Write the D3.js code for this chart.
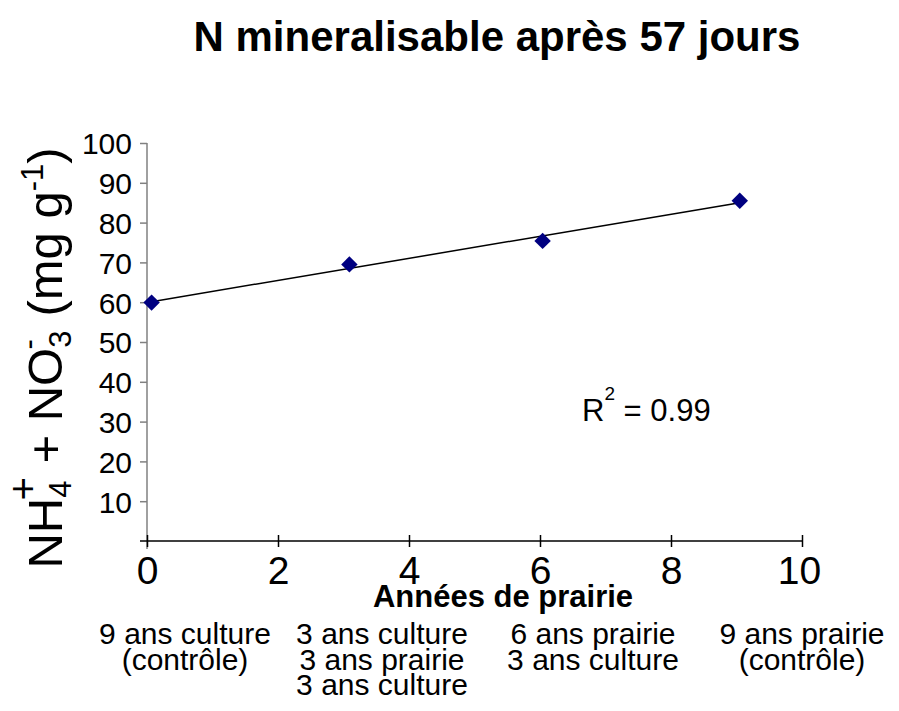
<!DOCTYPE html>
<html>
<head>
<meta charset="utf-8">
<script src="https://cdn.jsdelivr.net/npm/d3@7/dist/d3.min.js"></script>
<style>
  body { margin: 0; background: #fff; }
  text { font-family: Arial, "Liberation Sans", sans-serif; fill: #000; }
</style>
</head>
<body>
<div id="chart"></div>
<script>
// data
var years = [0.07, 3.09, 6.04, 9.05];
var nMin = [59.9, 69.5, 75.4, 85.5];
var xTicks = [0, 2, 4, 6, 8, 10];
var yTicks = [10, 20, 30, 40, 50, 60, 70, 80, 90, 100];
var treatments = [
    ["9 ans culture", "(contrôle)"],
    ["3 ans culture", "3 ans prairie", "3 ans culture"],
    ["6 ans prairie", "3 ans culture"],
    ["9 ans prairie", "(contrôle)"]
];
var r2Label = "0.99";

var width = 899, height = 711;
var svg = d3.select("#chart").append("svg")
    .attr("width", width)
    .attr("height", height);

var x = d3.scaleLinear().domain([0, 10]).range([147, 802]);
var y = d3.scaleLinear().domain([0, 100]).range([541, 143]);

// title
svg.append("text")
    .attr("x", 497).attr("y", 51)
    .style("font-size", "42px")
    .style("font-weight", "bold")
    .style("text-anchor", "middle")
    .text("N mineralisable après 57 jours");

// y axis (grey)
var yAxis = svg.append("g")
    .attr("transform", "translate(" + x(0) + ",0)")
    .call(d3.axisLeft(y).tickValues(yTicks).tickSize(7).tickPadding(8).tickSizeOuter(0));
yAxis.select(".domain").attr("stroke", "#808080").attr("stroke-width", 1.5)
    .attr("d", "M0," + y(100) + "V" + (y(0) + 8));
yAxis.selectAll(".tick line").attr("stroke", "#808080").attr("stroke-width", 1.5);
yAxis.selectAll(".tick text")
    .style("font-size", "30px")
    .style("font-family", "Arial, 'Liberation Sans', sans-serif")
    .attr("dy", "0.36em");

// x axis (black, crossing ticks)
var xAxis = svg.append("g")
    .attr("transform", "translate(0," + y(0) + ")")
    .call(d3.axisBottom(x).tickValues(xTicks).tickSize(6).tickPadding(10).tickSizeOuter(0));
xAxis.select(".domain").attr("stroke", "#000").attr("stroke-width", 1.5)
    .attr("d", "M" + (x(0) - 7) + ",0H" + x(10));
xAxis.selectAll(".tick line").attr("stroke", "#000").attr("stroke-width", 1.5).attr("y1", -6);
xAxis.selectAll(".tick text")
    .style("font-size", "39px")
    .style("font-family", "Arial, 'Liberation Sans', sans-serif")
    .attr("dy", "0.7em");
xAxis.selectAll(".tick").filter(function(d){ return d === 10; }).select("text").attr("dx", "-3");

// x axis title
svg.append("text")
    .attr("x", 503).attr("y", 607)
    .style("font-size", "31px")
    .style("font-weight", "bold")
    .style("text-anchor", "middle")
    .text("Années de prairie");

// treatment labels under axis
var colX = [185, 382, 593, 802];
svg.selectAll(".treat")
    .data(treatments)
    .enter()
    .append("text")
    .attr("class", "treat")
    .style("font-size", "30px")
    .style("text-anchor", "middle")
    .each(function(d, i) {
        var t = d3.select(this);
        d.forEach(function(line, j) {
            t.append("tspan")
                .attr("x", colX[i])
                .attr("y", 644 + j * 25.5)
                .text(line);
        });
    });

// y axis title with chemical formula
var yt = svg.append("text")
    .attr("transform", "translate(62,358) rotate(-90)")
    .style("font-size", "49px")
    .style("text-anchor", "middle");
yt.append("tspan").text("NH");
yt.append("tspan").style("font-size", "31px").attr("dy", 9).text("4");
yt.append("tspan").style("font-size", "40px").attr("dx", -20).attr("dy", -34).text("+");
yt.append("tspan").attr("dy", 25).text(" + NO");
yt.append("tspan").style("font-size", "31px").attr("dy", 9).text("3");
yt.append("tspan").style("font-size", "31px").attr("dx", -19).attr("dy", -32).text("-");
yt.append("tspan").attr("dx", 9).attr("dy", 23).text("\u00a0(mg g");
yt.append("tspan").style("font-size", "31px").attr("dy", -19).text("-1");
yt.append("tspan").attr("dy", 19).text(")");

// linear trend line (least squares)
var mx = d3.mean(years), my = d3.mean(nMin);
var sxy = d3.sum(years, function(v, i){ return (v - mx) * (nMin[i] - my); });
var sxx = d3.sum(years, function(v){ return (v - mx) * (v - mx); });
var slope = sxy / sxx, icpt = my - slope * mx;
var ext = d3.extent(years);
svg.append("line")
    .attr("x1", x(ext[0])).attr("y1", y(icpt + slope * ext[0]))
    .attr("x2", x(ext[1])).attr("y2", y(icpt + slope * ext[1]))
    .attr("stroke", "#000")
    .attr("stroke-width", 1.5);

// diamond markers
var diamond = d3.symbol().type(d3.symbolSquare).size(135);
svg.selectAll(".pt")
    .data(years)
    .enter()
    .append("path")
    .attr("class", "pt")
    .attr("d", diamond)
    .attr("transform", function(d, i) {
        return "translate(" + x(d) + "," + y(nMin[i]) + ") rotate(45)";
    })
    .attr("fill", "#000080");

// R squared
var r2 = svg.append("text")
    .attr("x", 582).attr("y", 421)
    .style("font-size", "31px");
r2.append("tspan").text("R");
r2.append("tspan").style("font-size", "19px").attr("dy", -21).text("2");
r2.append("tspan").attr("dy", 21).text(" = " + r2Label);
</script>
</body>
</html>
